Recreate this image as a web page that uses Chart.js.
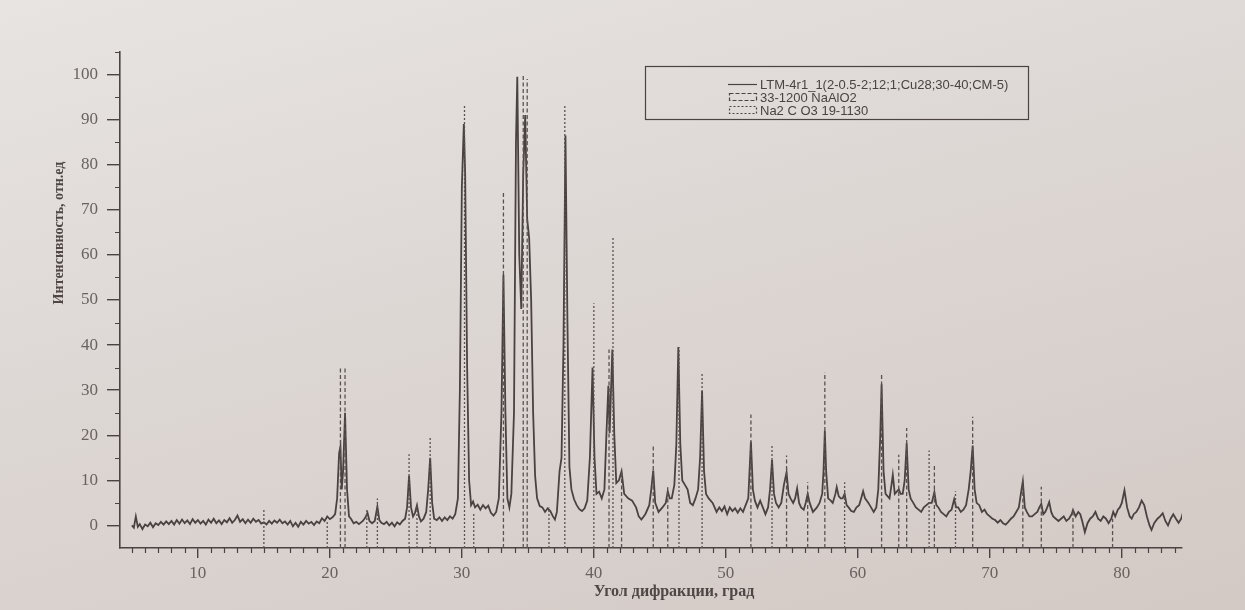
<!DOCTYPE html>
<html><head><meta charset="utf-8">
<script src="https://cdn.jsdelivr.net/npm/chart.js@4.4.0/dist/chart.umd.min.js"></script>
<style>
html,body{margin:0;padding:0;}
body{width:1245px;height:610px;overflow:hidden;background:linear-gradient(165deg,#e7e4e2 0%,#ddd7d4 45%,#d3c9c5 100%);}
canvas{display:block;}
</style></head><body>
<canvas id="c" width="1245" height="610"></canvas>
<script>
// ---------- data ----------
const xTickLabels = [10, 20, 30, 40, 50, 60, 70, 80];
const yTickLabels = [0, 10, 20, 30, 40, 50, 60, 70, 80, 90, 100];
const legendLabels = ['LTM-4r1_1(2-0.5-2;12;1;Cu28;30-40;CM-5)', '33-1200 NaAlO2', 'Na2 C O3 19-1130'];
const xTitle = 'Угол дифракции, град';
const yTitle = 'Интенсивность, отн.ед';

// measured pattern: [2theta, intensity]
const scan = [
[5.0,0.0],[5.15,-0.5],[5.3,2.0],[5.45,-0.3],[5.6,0.3],[5.8,-0.8],[6.0,0.2],[6.2,-0.2],[6.4,0.6],[6.6,-0.4],
[6.8,0.5],[7.0,0.1],[7.2,0.8],[7.4,0.2],[7.6,0.9],[7.8,0.3],[8.0,1.0],[8.2,0.2],[8.4,1.2],[8.6,0.4],
[8.8,1.3],[9.0,0.5],[9.2,1.1],[9.4,0.3],[9.6,1.4],[9.8,0.6],[10.0,1.2],[10.2,0.4],[10.4,1.0],[10.6,0.2],
[10.8,1.3],[11.0,0.6],[11.2,1.5],[11.4,0.5],[11.6,1.1],[11.8,0.3],[12.0,1.2],[12.2,0.7],[12.4,1.6],[12.6,0.6],
[12.8,1.2],[13.0,2.2],[13.2,0.8],[13.4,1.4],[13.6,0.5],[13.8,1.3],[14.0,0.6],[14.2,1.5],[14.4,0.8],[14.6,1.2],
[14.8,0.4],[15.0,0.7],[15.2,0.2],[15.4,1.0],[15.6,0.4],[15.8,1.1],[16.0,0.6],[16.2,1.3],[16.4,0.5],[16.6,0.9],
[16.8,0.2],[17.0,1.0],[17.2,-0.2],[17.4,0.6],[17.6,-0.3],[17.8,0.8],[18.0,0.2],[18.2,1.0],[18.4,0.4],[18.6,0.8],
[18.8,0.1],[19.0,0.9],[19.2,0.5],[19.4,1.6],[19.6,1.0],[19.8,2.0],[20.0,1.4],[20.2,1.8],[20.4,2.5],[20.55,6],
[20.7,16],[20.8,17.5],[20.9,8],[21.0,12],[21.15,25],[21.3,8],[21.45,2],[21.6,1.5],[21.8,0.5],[22.0,0.8],
[22.2,0.3],[22.5,1.0],[22.7,1.8],[22.85,2.8],[23.0,1.0],[23.2,0.5],[23.4,1.0],[23.6,4.2],[23.75,1.2],[23.9,0.6],
[24.1,0.3],[24.3,0.8],[24.5,0.0],[24.7,0.6],[24.9,-0.2],[25.1,0.7],[25.3,0.2],[25.5,1.0],[25.7,1.5],[25.85,4],
[26.0,11],[26.15,4],[26.3,2.0],[26.45,2.8],[26.6,4.5],[26.75,2.0],[26.9,0.9],[27.1,1.5],[27.3,3],[27.45,8],
[27.6,15],[27.75,5],[27.9,1.5],[28.1,1.2],[28.3,1.8],[28.5,1.0],[28.7,1.8],[28.9,1.2],[29.1,2.0],[29.3,1.5],
[29.5,2.5],[29.7,6],[29.85,30],[30.0,75],[30.15,89],[30.25,78],[30.4,35],[30.55,10],[30.7,4.5],[30.85,5.3],
[31.0,4.0],[31.2,4.6],[31.4,3.5],[31.6,4.5],[31.8,3.8],[32.0,4.4],[32.2,2.8],[32.4,2.2],[32.6,3.0],[32.8,6],
[33.0,25],[33.15,55.6],[33.3,25],[33.45,6],[33.6,4],[33.75,7],[33.95,25],[34.1,85],[34.2,99.5],[34.35,60],
[34.5,48],[34.65,78],[34.8,91],[34.95,68],[35.1,63.7],[35.25,50],[35.4,25],[35.55,11],[35.7,6],[35.9,4.3],
[36.1,4.0],[36.3,3.0],[36.5,3.8],[36.7,3.2],[36.9,2.0],[37.05,1.3],[37.2,3],[37.4,12],[37.55,15],[37.7,40],
[37.85,86.5],[38.0,45],[38.15,13],[38.3,8],[38.5,5.8],[38.7,4.5],[38.9,3.6],[39.1,3.2],[39.3,3.8],[39.5,5.5],
[39.7,15],[39.9,35],[40.05,15],[40.2,7],[40.4,7.5],[40.6,6],[40.8,8],[40.95,20],[41.1,31],[41.2,20.5],
[41.3,30],[41.4,39],[41.55,20],[41.7,9.4],[41.9,10],[42.1,12],[42.3,7],[42.6,6],[42.9,5.5],[43.2,4],
[43.4,2],[43.6,1.3],[43.9,2.5],[44.2,4.5],[44.35,8],[44.5,12.2],[44.65,5],[44.9,3],[45.2,4],[45.45,5],
[45.6,7.6],[45.75,6],[45.9,6],[46.1,9],[46.25,18],[46.4,39.6],[46.55,18],[46.7,10],[46.9,9],[47.1,8],
[47.3,5],[47.5,4.5],[47.7,6],[47.9,8],[48.05,15],[48.2,29.8],[48.35,12],[48.5,7],[48.7,6],[49.0,5],
[49.3,3],[49.5,4],[49.7,3.2],[49.9,4.2],[50.1,2.5],[50.3,4],[50.5,3.2],[50.7,3.8],[50.9,2.8],[51.1,3.8],
[51.3,3],[51.5,4.5],[51.7,6],[51.9,18.6],[52.05,8],[52.2,5.5],[52.4,4],[52.6,5.5],[52.8,4],[53.0,2.5],
[53.2,4],[53.35,8],[53.5,14.5],[53.65,7],[53.8,5],[54.0,4],[54.2,5],[54.4,9],[54.6,11.8],[54.75,7],
[54.9,6],[55.1,5],[55.25,6],[55.4,8.2],[55.55,5],[55.7,4],[55.9,3.5],[56.05,5],[56.2,7],[56.35,5],
[56.6,3],[56.9,4],[57.1,5],[57.3,7],[57.4,12],[57.5,21],[57.6,12],[57.75,6],[57.95,5.5],[58.1,5],
[58.3,7],[58.4,8.5],[58.55,6.5],[58.7,6],[58.85,6],[59.0,7],[59.15,4.5],[59.3,4],[59.5,3.2],[59.7,3],
[59.9,4],[60.1,4.5],[60.25,6],[60.4,7.6],[60.55,6],[60.8,5],[61.0,4],[61.2,3],[61.4,4],[61.55,8],
[61.7,20],[61.8,31.3],[61.95,12],[62.1,7],[62.25,6.5],[62.4,6],[62.55,9],[62.65,11.2],[62.8,7],[62.95,7.5],
[63.1,8],[63.25,7],[63.4,7],[63.55,10],[63.7,18.2],[63.85,8],[64.0,6],[64.2,5],[64.4,4],[64.6,3.5],
[64.8,3],[65.0,4],[65.2,4.5],[65.4,5],[65.6,5],[65.8,7.4],[65.95,4.5],[66.1,4],[66.3,3],[66.5,2.5],
[66.7,2],[66.9,3],[67.1,3.5],[67.3,5.8],[67.45,4],[67.6,4],[67.8,3],[68.0,3.5],[68.2,4.5],[68.4,8],
[68.55,12],[68.7,17.7],[68.85,8],[69.0,5],[69.2,4.5],[69.4,3],[69.6,3.5],[69.8,2.5],[70.0,2],[70.2,1.5],
[70.4,1.2],[70.6,0.6],[70.8,1.2],[71.0,0.5],[71.2,0.2],[71.4,0.8],[71.6,1.5],[71.8,2],[72.0,3],[72.2,4],
[72.35,7],[72.5,9.8],[72.65,4],[72.8,3],[73.0,2],[73.2,2],[73.4,2.5],[73.6,3],[73.75,4],[73.9,4.8],
[74.05,2.5],[74.2,3],[74.35,4],[74.5,5.2],[74.65,3],[74.8,2],[75.0,1.5],[75.2,1],[75.4,1.5],[75.6,2],
[75.8,1],[76.0,1.5],[76.2,2.5],[76.3,3.4],[76.5,2],[76.7,3],[76.85,2.5],[77.0,1],[77.2,-1.5],[77.4,0.5],
[77.6,1.5],[77.8,2],[78.0,3],[78.2,1.5],[78.4,1],[78.6,2],[78.8,1.5],[79.0,0.5],[79.2,1.5],[79.35,3],
[79.5,2],[79.7,3.5],[79.85,4],[80.0,5],[80.2,7.8],[80.4,4],[80.6,2],[80.75,1.5],[80.9,2.5],[81.1,3],
[81.3,4],[81.5,5.5],[81.7,4.5],[81.9,2],[82.1,0],[82.25,-1],[82.45,0.5],[82.7,1.5],[82.9,2],[83.1,2.7],
[83.3,1],[83.5,0],[83.7,1.5],[83.9,2.5],[84.1,1.5],[84.3,0.6],[84.5,1.5],[84.7,3.5]
];

// reference card 33-1200 NaAlO2 (dashed sticks)
const naAlO2Angle = [20.8, 21.15, 33.15, 34.65, 34.95, 41.15, 42.1, 44.5, 45.6, 51.9, 54.6, 56.2, 57.5, 61.8, 63.1, 63.7, 65.8, 68.7, 72.5, 73.9, 76.3, 79.3];
const naAlO2Int   = [35, 35, 74, 100, 99, 39, 11.9, 17.9, 8.5, 24.6, 15.5, 9.6, 34, 33.9, 15.7, 21.6, 13.7, 24.1, 10, 8.6, 3.7, 1.5];
// reference card 19-1130 Na2CO3 (dotted sticks)
const na2co3Angle = [15.0, 19.8, 22.8, 23.6, 26.0, 26.6, 27.6, 30.2, 30.9, 36.6, 37.8, 40.0, 41.45, 46.45, 48.2, 53.5, 59.0, 65.4, 67.4];
const na2co3Int   = [3.6, 1, 3.7, 6, 15.8, 4.5, 19.8, 93, 3, 4, 93, 49.3, 63.8, 39.6, 34, 17.6, 9.6, 16.6, 7.6];

// ---------- build ----------
const ink = '#4b4341';
const tickInk = '#6a625f';
const Y_MIN = -5, Y_MAX = 105;

function sticks(angles, ints) {
  const out = [];
  angles.forEach((a, i) => { out.push({x: a, y: Y_MIN}, {x: a, y: ints[i]}, {x: a, y: null}); });
  return out;
}

const extras = {
  id: 'extras',
  afterDraw(chart) {
    const ctx = chart.ctx, xs = chart.scales.x, ys = chart.scales.y, ca = chart.chartArea;
    ctx.save();
    // minor ticks
    ctx.strokeStyle = ink; ctx.lineWidth = 1.2;
    ctx.beginPath();
    for (let v = 5; v <= 84; v++) {
      if (v % 10 === 0) continue;
      const px = Math.round(xs.getPixelForValue(v)) + 0.5;
      ctx.moveTo(px, ca.bottom); ctx.lineTo(px, ca.bottom + 5);
    }
    for (let v = 5; v <= 105; v += 10) {
      const py = Math.round(ys.getPixelForValue(v)) + 0.5;
      ctx.moveTo(ca.left, py); ctx.lineTo(ca.left - 5, py);
    }
    ctx.stroke();
    // axis titles
    ctx.fillStyle = '#4f4745';
    ctx.font = 'bold 16px "Liberation Serif"';
    ctx.textAlign = 'center'; ctx.textBaseline = 'middle';
    ctx.fillText(xTitle, 674, 592);
    ctx.save();
    ctx.translate(59, 233); ctx.rotate(-Math.PI / 2);
    ctx.font = 'bold 14px "Liberation Serif"';
    ctx.fillText(yTitle, 0, 0);
    ctx.restore();
    // legend box
    ctx.strokeStyle = ink; ctx.lineWidth = 1.2;
    ctx.strokeRect(645.5, 66.5, 383, 53);
    ctx.font = '13px "Liberation Sans"';
    ctx.textAlign = 'left'; ctx.fillStyle = '#4a4341';
    const rows = [84, 97, 110];
    const styles = [[], [4, 2], [2, 2]];
    rows.forEach((ry, i) => {
      ctx.setLineDash(styles[i]);
      ctx.lineWidth = 1.2;
      if (i === 0) {
        ctx.beginPath(); ctx.moveTo(728, ry + 0.5); ctx.lineTo(757, ry + 0.5); ctx.stroke();
      } else {
        ctx.strokeRect(729.5, ry - 3.5, 27, 7);
      }
      ctx.setLineDash([]);
      ctx.fillText(legendLabels[i], 760, ry + 1);
    });
    ctx.restore();
  }
};

new Chart(document.getElementById('c'), {
  type: 'line',
  data: {
    datasets: [
      { label: legendLabels[1], data: sticks(naAlO2Angle, naAlO2Int), borderColor: '#5a5250', borderWidth: 1.3, borderDash: [4, 2.5], pointRadius: 0, spanGaps: false, tension: 0 },
      { label: legendLabels[2], data: sticks(na2co3Angle, na2co3Int), borderColor: '#5a5250', borderWidth: 1.3, borderDash: [2, 2], pointRadius: 0, spanGaps: false, tension: 0 },
      { label: legendLabels[0], data: scan.map(p => ({x: p[0], y: p[1]})), borderColor: '#4a4240', borderWidth: 1.8, pointRadius: 0, tension: 0 }
    ]
  },
  options: {
    responsive: false, animation: false, events: [],
    layout: { padding: { top: 52, right: 63, left: 0, bottom: 0 } },
    plugins: { legend: { display: false }, tooltip: { enabled: false } },
    scales: {
      x: {
        type: 'linear', min: 4.1, max: 84.56,
        afterBuildTicks: s => { s.ticks = xTickLabels.map(v => ({ value: v })); },
        afterFit: s => { s.height = 62; },
        grid: { drawOnChartArea: false, drawTicks: true, tickLength: 10, color: ink, lineWidth: 1.4 },
        border: { display: true, color: ink, width: 1.6 },
        ticks: { padding: 5, color: tickInk, font: { family: 'Liberation Serif', size: 17 }, maxRotation: 0, callback: v => String(v) }
      },
      y: {
        type: 'linear', min: Y_MIN, max: Y_MAX,
        afterBuildTicks: s => { s.ticks = yTickLabels.map(v => ({ value: v })); },
        afterFit: s => { s.width = 120; },
        grid: { drawOnChartArea: false, drawTicks: true, tickLength: 13, color: ink, lineWidth: 1.4 },
        border: { display: true, color: ink, width: 1.6 },
        ticks: { padding: 9, color: tickInk, font: { family: 'Liberation Serif', size: 17 }, callback: v => String(v) }
      }
    }
  },
  plugins: [extras]
});
</script>
</body></html>
